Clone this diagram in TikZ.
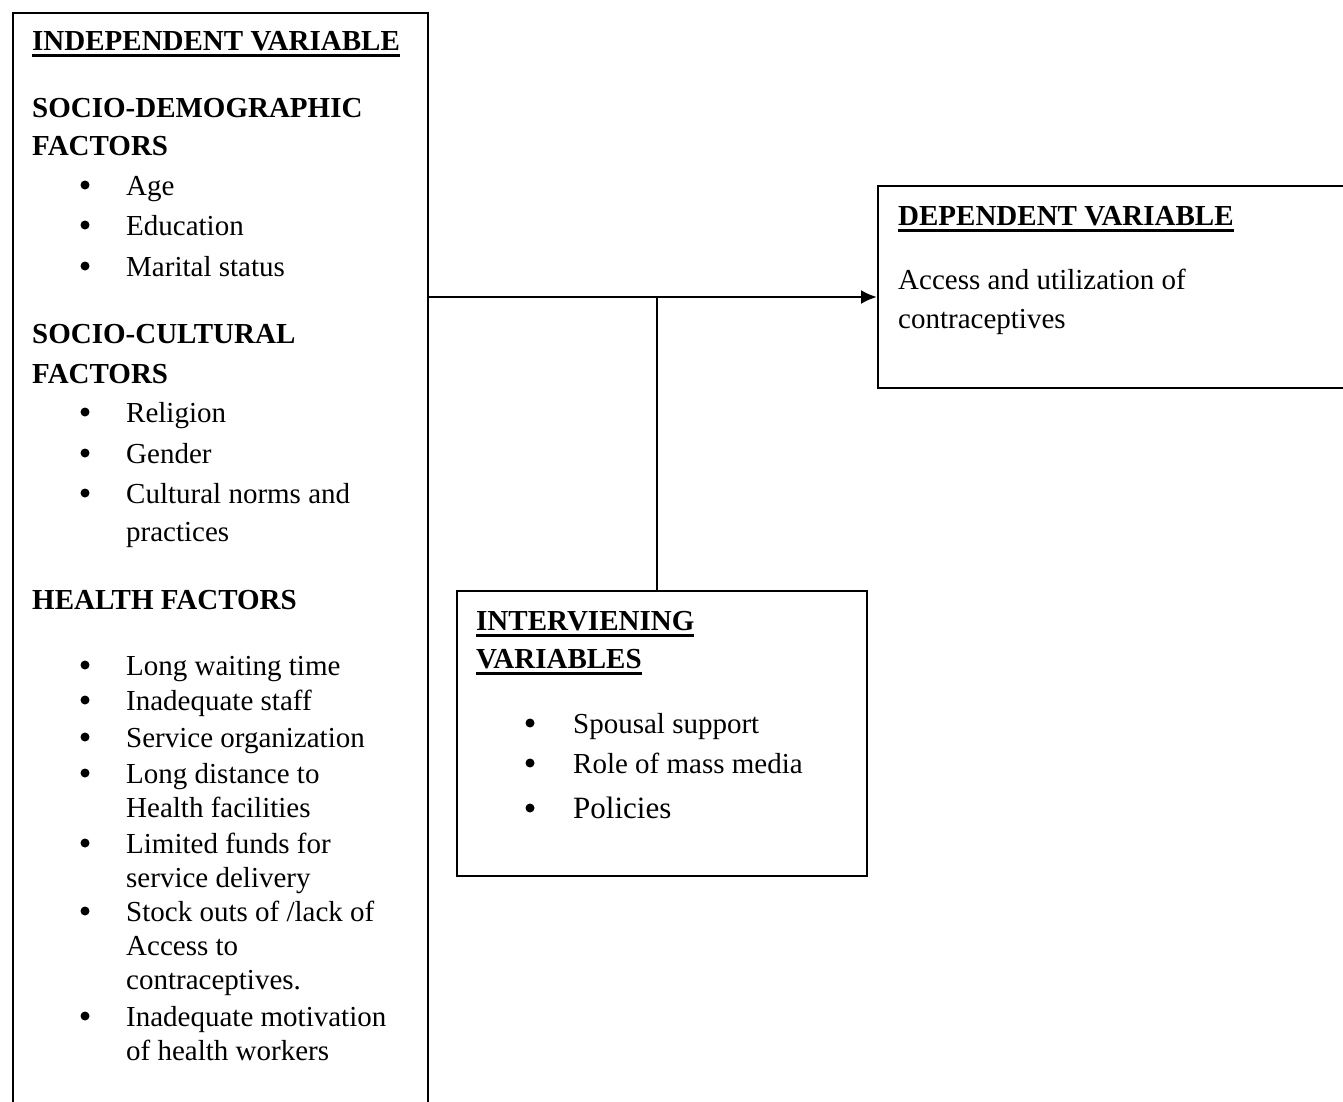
\documentclass[tikz,border=0pt]{standalone}
\usepackage{fontspec}
\setmainfont{Liberation Serif}
\usepackage{tikz}
\usetikzlibrary{arrows.meta,positioning}
\tikzset{>={Latex[length=16pt,width=14pt]}}
\newcommand\hdline[1]{\setbox0\hbox{#1}\rlap{\vrule height -3.5pt depth 6.5pt width\wd0}\box0}

\begin{document}
\begin{tikzpicture}[x=1pt,y=-1pt,
varbox/.style={rectangle, draw=black, line width=2pt, anchor=north west, inner sep=0pt},
head/.style={anchor=base west, inner sep=0pt, font=\fontsize{29}{34}\selectfont\bfseries},
entry/.style={anchor=base west, inner sep=0pt, font=\fontsize{29}{34}\selectfont},
dot/.style={circle, fill=black, inner sep=0pt, minimum size=9pt},
]
\useasboundingbox (0,0) rectangle (1343,1101);
%Boxes
\node[varbox, minimum width=415pt, minimum height=1120pt](Independent) at (12,12){};
\node[varbox, minimum width=490pt, minimum height=202pt](Dependent) at (877,185){};
\node[varbox, minimum width=410pt, minimum height=285pt](Intervening) at (456,590){};

%Independent variable
\node[head](IndHead) at (32,50){\hdline{INDEPENDENT VARIABLE}};
\node[head](SocDem) at (32,117){SOCIO-DEMOGRAPHIC};
\node[head](SocDemB) at (32,155){FACTORS};
\node[head](SocCul) at (32,343){SOCIO-CULTURAL};
\node[head](SocCulB) at (32,383){FACTORS};
\node[head](Health) at (32,609){HEALTH FACTORS};
\foreach \y/\t [count=\i] in {195/Age, 235/Education, 276/Marital status,
  422/Religion, 463/Gender, 503/Cultural norms and, 541/practices,
  675/Long waiting time, 710/Inadequate staff, 747/Service organization,
  783/Long distance to, 817/Health facilities, 853/Limited funds for,
  887/service delivery, 921/{Stock outs of /lack of}, 955/Access to,
  989/contraceptives., 1026/Inadequate motivation, 1060/of health workers}
  \node[entry](ind\i) at (126,\y){\t};
\foreach \y [count=\i] in {195,235,276,422,463,503,675,710,747,783,853,921,1026}
  \node[dot](indDot\i) at (85,\y-10){};

%Dependent variable
\node[head](DepHead) at (898,225){\hdline{DEPENDENT VARIABLE}};
\node[entry](dep1) at (898,289){Access and utilization of};
\node[entry](dep2) at (898,328){contraceptives};

%Intervening variables
\node[head](IntHead) at (476,630){\hdline{INTERVIENING}};
\node[head](IntHeadB) at (476,668){\hdline{VARIABLES}};
\node[entry](int1) at (573,733){Spousal support};
\node[entry](int2) at (573,773){Role of mass media};
\node[entry, font=\fontsize{31}{36}\selectfont](int3) at (573,818){Policies};
\foreach \y [count=\i] in {733,773,818}
  \node[dot](intDot\i) at (530,\y-10){};

%Connectors
\coordinate (split) at (657,297);
\draw[->, line width=2.5pt] (Independent.east |- split) -- (Dependent.west |- split);
\draw[line width=2.5pt] (split) -- (split |- Intervening.north);
\end{tikzpicture}
\end{document}
